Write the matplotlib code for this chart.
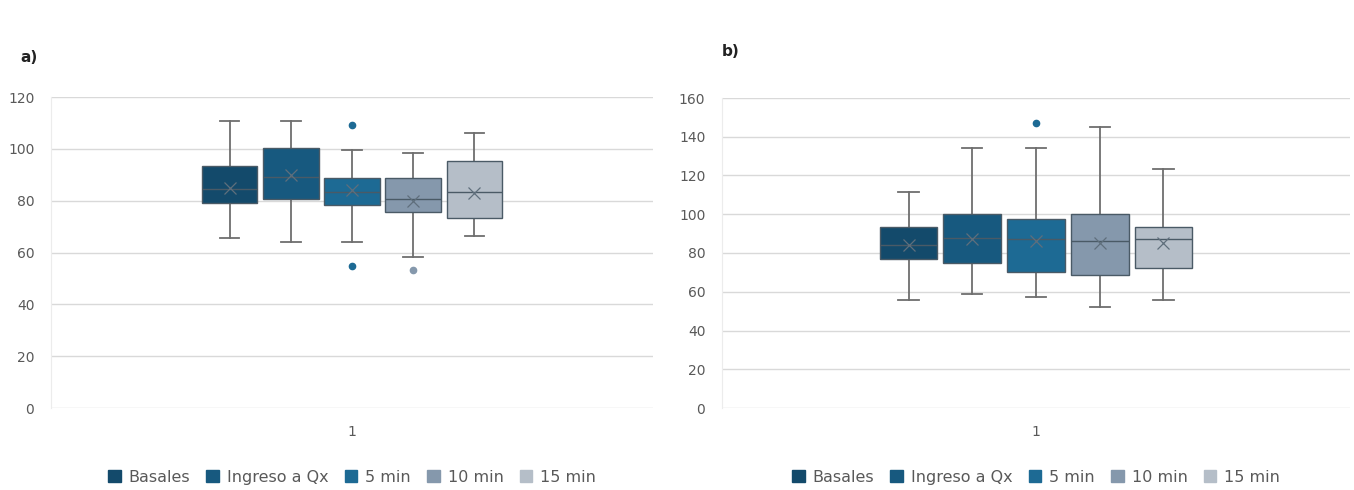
import matplotlib.pyplot as plt
from matplotlib.patches import Patch

series = ['Basales', 'Ingreso a Qx', '5 min', '10 min', '15 min']
colors = ['#134a6b', '#17597f', '#1d6a94', '#8598ac', '#b5bec8']

# panel a) : whisker low, q1, median, q3, whisker high, mean, outliers
a_wlo = [65.6, 64.2, 64.2, 58.1, 66.4]
a_q1 = [79.1, 80.6, 78.3, 75.5, 73.4]
a_med = [84.5, 89.0, 83.5, 80.6, 83.5]
a_q3 = [93.4, 100.3, 88.7, 88.6, 95.3]
a_whi = [110.7, 110.7, 99.5, 98.3, 106.2]
a_mean = [85.0, 90.0, 84.0, 80.0, 83.0]
a_fliers = [[], [], [109.2, 54.9], [53.2], []]

# panel b)
b_wlo = [55.7, 58.8, 57.1, 52.0, 55.7]
b_q1 = [76.9, 74.7, 70.4, 68.6, 72.4]
b_med = [84.0, 87.6, 87.0, 86.4, 87.2]
b_q3 = [93.3, 100.1, 97.4, 100.1, 93.6]
b_whi = [111.3, 134.0, 134.0, 144.9, 123.2]
b_mean = [84.0, 87.0, 86.0, 85.0, 85.0]
b_fliers = [[], [], [147.0], [], []]

grid_c = '#d9d9d9'
text_c = '#595959'

fig = plt.figure(figsize=(13.54, 4.9), dpi=100)
W, H = 1354, 490


def panel(rect, wlo, q1, med, q3, whi, mean, fliers, ymax, label, lab_xy):
    ax = fig.add_axes(rect)
    stats = []
    for i in range(len(series)):
        stats.append({'whislo': wlo[i], 'q1': q1[i], 'med': med[i], 'q3': q3[i],
                      'whishi': whi[i], 'mean': mean[i], 'fliers': fliers[i]})
    pos = [1 + (i - 2) * 0.1015 for i in range(len(series))]
    bp = ax.bxp(stats, positions=pos, widths=0.092, patch_artist=True,
                showmeans=True, manage_ticks=False)
    for i, c in enumerate(colors):
        bp['boxes'][i].set(facecolor=c, edgecolor='#4a5a66', linewidth=1.0, zorder=3)
        bp['medians'][i].set(color='#4a5a66', linewidth=1.0, zorder=4)
        bp['means'][i].set(marker='x', markeredgecolor='#5f6f7c', markersize=8,
                           markeredgewidth=0.9, zorder=5)
        bp['fliers'][i].set(marker='o', markerfacecolor=c, markeredgecolor=c,
                            markersize=4.5)
    for k in ('whiskers', 'caps'):
        for ln in bp[k]:
            ln.set(color='#6e6e6e', linewidth=1.3, zorder=2)
    for cap in bp['caps']:
        x = cap.get_xdata()
        cx = (x[0] + x[1]) / 2
        cap.set_xdata([cx - 0.016, cx + 0.016])

    ax.set_xlim(0.5, 1.5)
    ax.set_ylim(0, ymax)
    ax.set_yticks(range(0, ymax + 1, 20))
    ax.set_xticks([1])
    ax.set_xticklabels(['1'])
    ax.yaxis.grid(True, color=grid_c, linewidth=1.0)
    ax.set_axisbelow(True)
    for s in ('top', 'right', 'bottom'):
        ax.spines[s].set_visible(False)
    ax.spines['left'].set_color('#ececec')
    ax.tick_params(length=0, labelsize=10, colors=text_c)
    ax.tick_params(axis='y', pad=12)
    ax.tick_params(axis='x', pad=12)
    fig.text(lab_xy[0] / W, 1 - lab_xy[1] / H, label, fontsize=11,
             fontweight='bold', color='#222222', va='center')

    handles = [Patch(facecolor=c, edgecolor=c) for c in colors]
    cx = rect[0] + rect[2] / 2
    fig.legend(handles, series, loc='center', bbox_to_anchor=(cx, 1 - 477 / H),
               ncol=5, frameon=False, fontsize=11.5, labelcolor=text_c,
               handlelength=0.8, handleheight=0.8, handletextpad=0.5,
               columnspacing=1.0)
    return ax


panel([51 / W, 82 / H, 602 / W, 311 / H], a_wlo, a_q1, a_med, a_q3, a_whi,
      a_mean, a_fliers, 120, 'a)', (20, 57))
panel([722 / W, 82 / H, 628 / W, 310 / H], b_wlo, b_q1, b_med, b_q3, b_whi,
      b_mean, b_fliers, 160, 'b)', (722, 52))

fig.savefig('out.png', dpi=100, facecolor='white')
